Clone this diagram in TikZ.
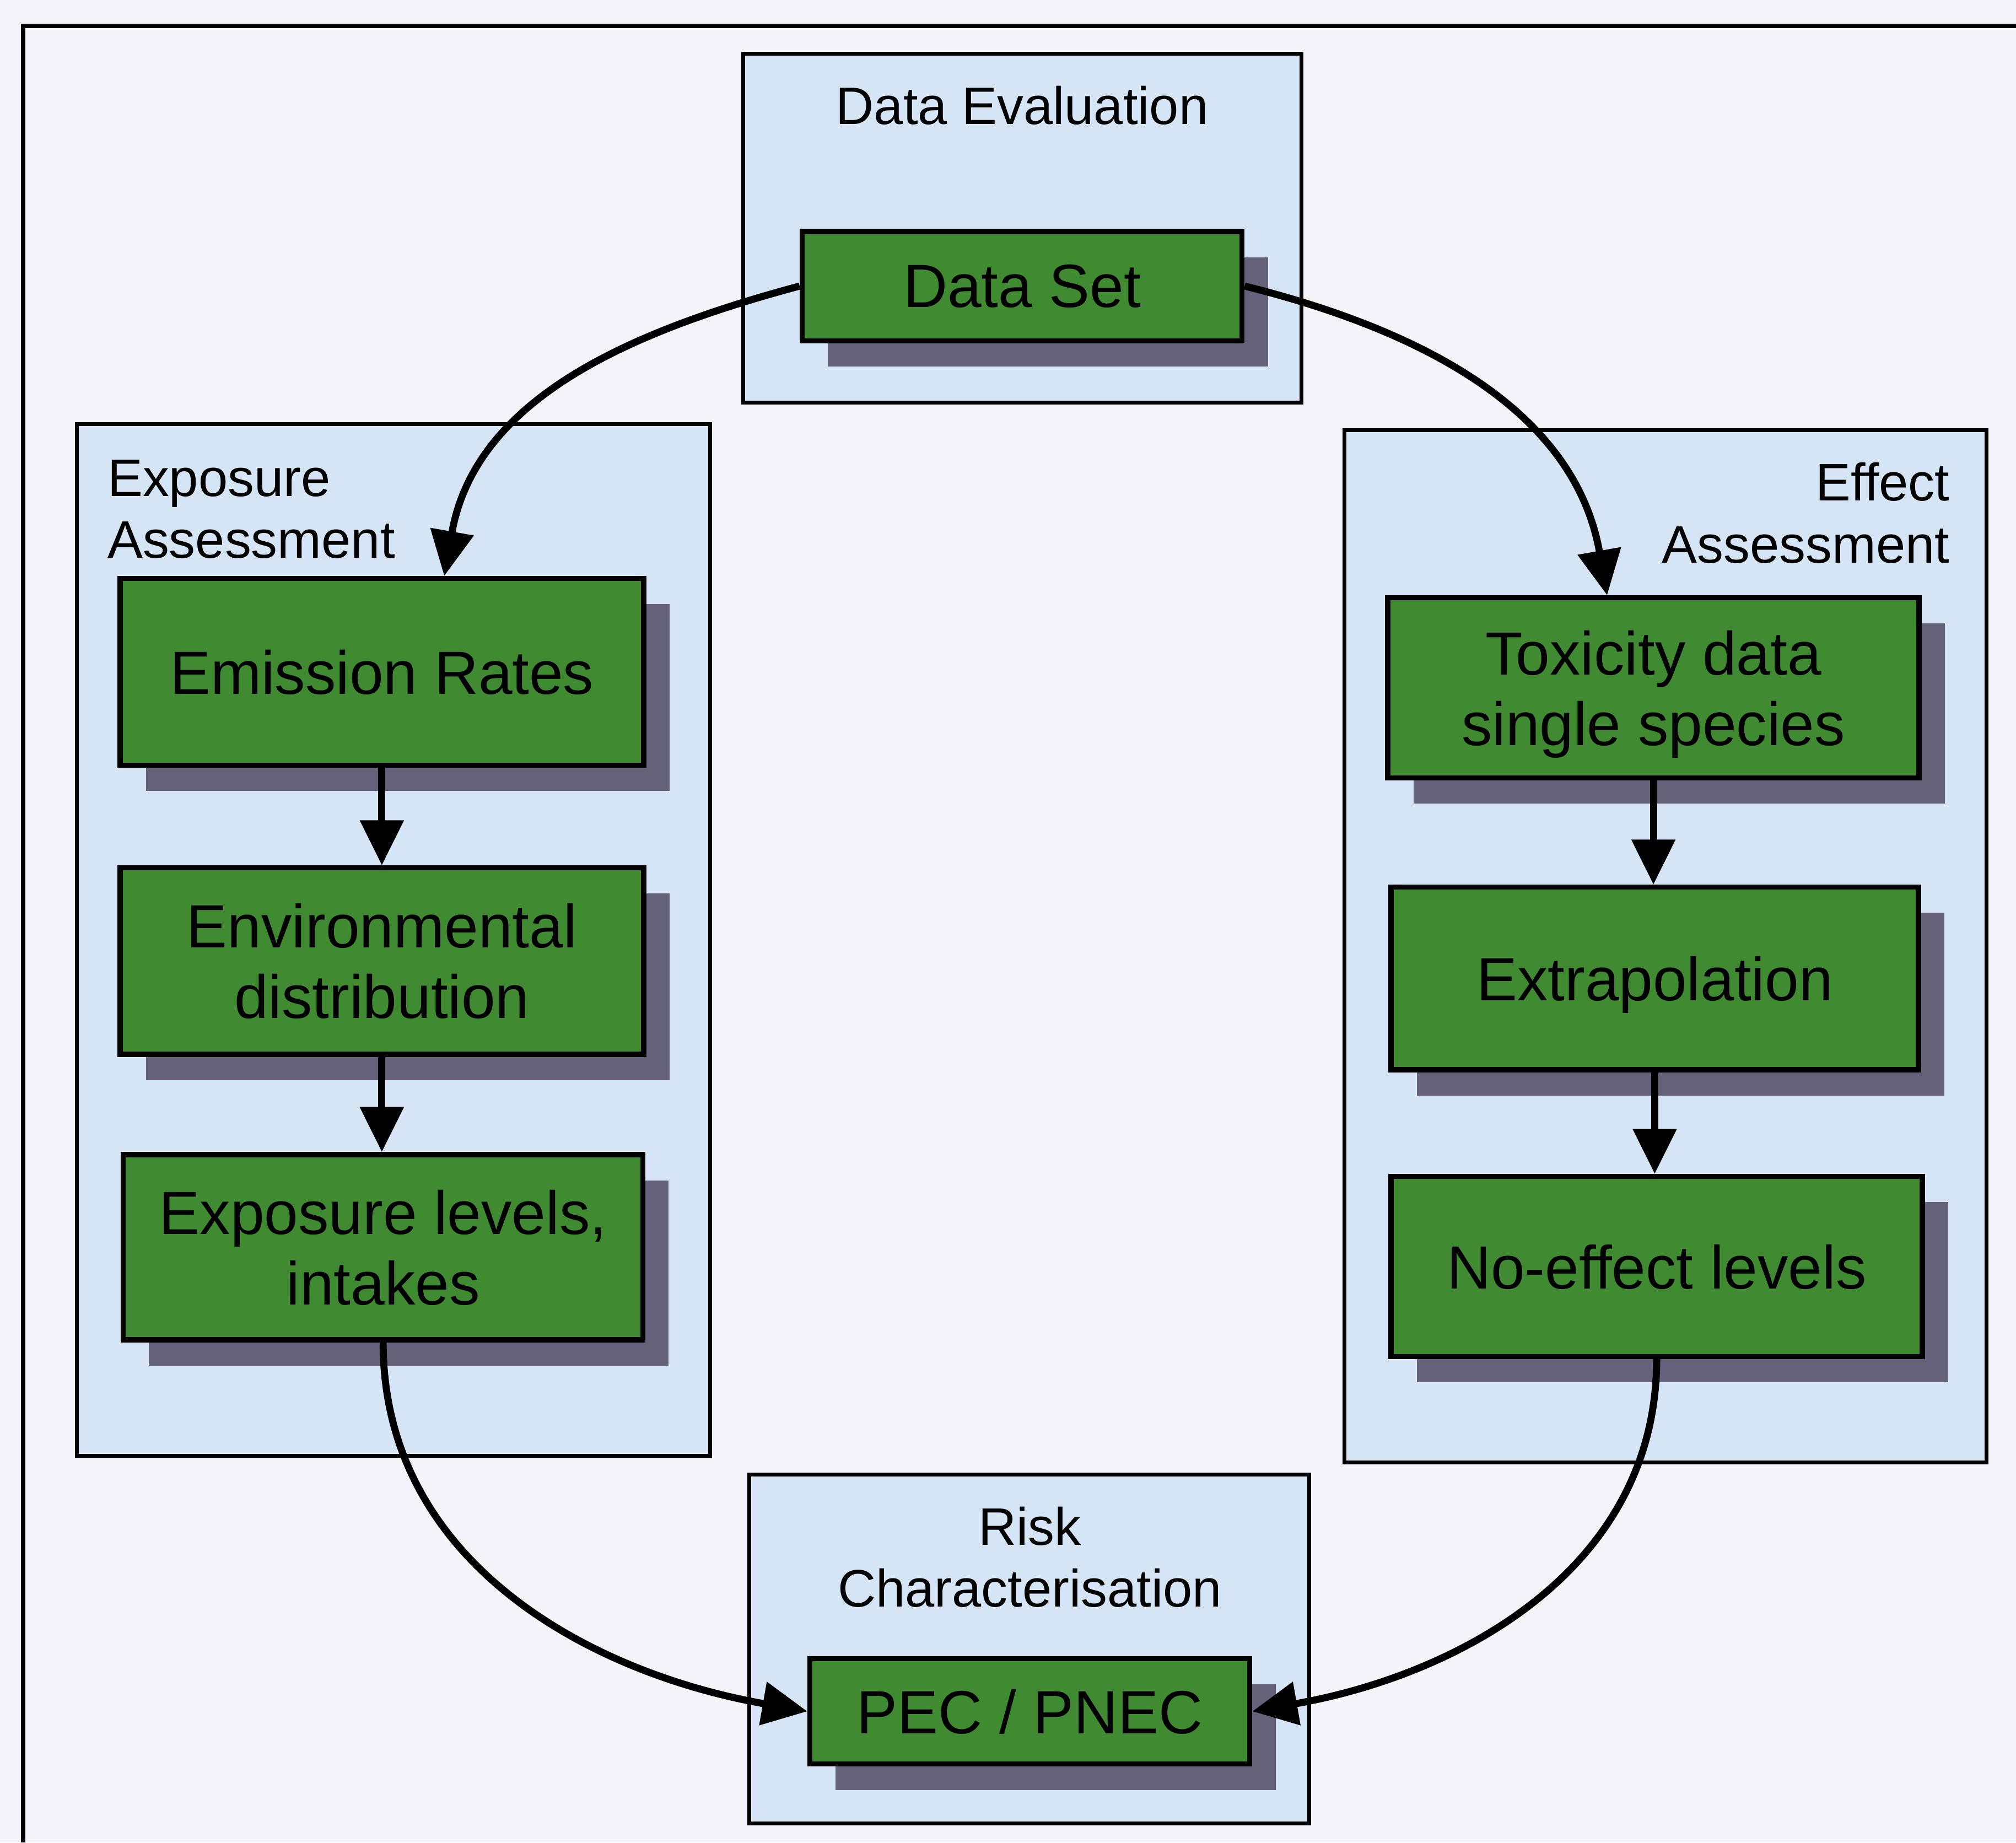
\documentclass[tikz,border=0pt]{standalone}
\usepackage{fontspec}
\setmainfont{Liberation Sans}
\usetikzlibrary{arrows.meta,shadows,calc}
\definecolor{bgc}{RGB}{244,244,250}
\definecolor{panelc}{RGB}{214,229,245}
\definecolor{greenc}{RGB}{64,138,50}
\definecolor{shadc}{RGB}{102,97,122}
\begin{document}
\begin{tikzpicture}[x=0.01cm,y=-0.01cm,
  panel/.style={draw=black, line width=0.03cm, fill=panelc, inner sep=0pt},
  gbox/.style={draw=black, line width=0.04cm, fill=greenc, align=center, inner sep=0pt,
    text depth=0pt,
    font=\fontsize{13.5}{15.6}\selectfont,
    drop shadow={shadow xshift=0.2cm, shadow yshift=-0.2cm, fill=shadc, opacity=1}},
  ttl/.style={font=\fontsize{11.67}{13.7}\selectfont, inner sep=0pt},
  arr/.style={line width=0.055cm, -{Triangle[length=0.35cm,width=0.33cm]}},
  frame/.style={line width=0.035cm}
]
\useasboundingbox (0,0) rectangle (1568,1433);
\fill[bgc] (0,0) rectangle (1568,1433);
\coordinate (f1) at (18,1433);
\coordinate (f2) at (18,20);
\coordinate (f3) at (1568,20);
\draw[frame] (f1) -- (f2) -- (f3);

% panels
\node[panel, minimum width=4.34cm, minimum height=2.71cm] (DE) at (795,177.5) {};
\node[panel, minimum width=4.92cm, minimum height=8.02cm] (EA) at (306,731) {};
\node[panel, minimum width=4.99cm, minimum height=8.02cm] (EF) at (1295.5,736) {};
\node[panel, minimum width=4.35cm, minimum height=2.71cm] (RC) at (800.5,1282.5) {};

% panel titles
\node[ttl] (tDE) at (795,82) {Data Evaluation};
\node[ttl, anchor=west, align=left] (tEA) at (83,396) {Exposure\\Assessment};
\node[ttl, anchor=east, align=right] (tEF) at (1517,399) {Effect\\Assessment};
\node[ttl, align=center] (tRC) at (801,1211) {Risk\\Characterisation};

% green boxes
\node[gbox, minimum width=3.42cm, minimum height=0.85cm] (DS) at (795,222.5) {Data Set};
\node[gbox, minimum width=4.07cm, minimum height=1.45cm] (ER) at (297,522.5) {Emission Rates};
\node[gbox, minimum width=4.07cm, minimum height=1.45cm] (ED) at (297,747.5) {Environmental\\distribution};
\node[gbox, minimum width=4.04cm, minimum height=1.44cm] (EL) at (298,970) {Exposure levels,\\intakes};
\node[gbox, minimum width=4.13cm, minimum height=1.40cm] (TX) at (1286,535) {Toxicity data\\single species};
\node[gbox, minimum width=4.10cm, minimum height=1.42cm] (EX) at (1287,761) {Extrapolation};
\node[gbox, minimum width=4.13cm, minimum height=1.40cm] (NE) at (1288.5,985) {No-effect levels};
\node[gbox, minimum width=3.42cm, minimum height=0.82cm] (PN) at (801,1331) {PEC / PNEC};

% straight arrows
\draw[arr] (ER.south) -- (ER.south |- ED.north);
\draw[arr] (ED.south) -- (ED.south |- EL.north);
\draw[arr] (TX.south) -- (TX.south |- EX.north);
\draw[arr] (EX.south) -- (EX.south |- NE.north);

% curved arrows
\draw[arr] (DS.west) to[out=195,in=80] ([xshift=0.485cm]ER.north);
\draw[arr] (DS.east) to[out=-14,in=100] ([xshift=-0.36cm]TX.north);
\draw[arr] (EL.south) to[out=-90,in=170] (PN.west);
\draw[arr] (NE.south) to[out=-90,in=10] (PN.east);
\end{tikzpicture}
\end{document}
